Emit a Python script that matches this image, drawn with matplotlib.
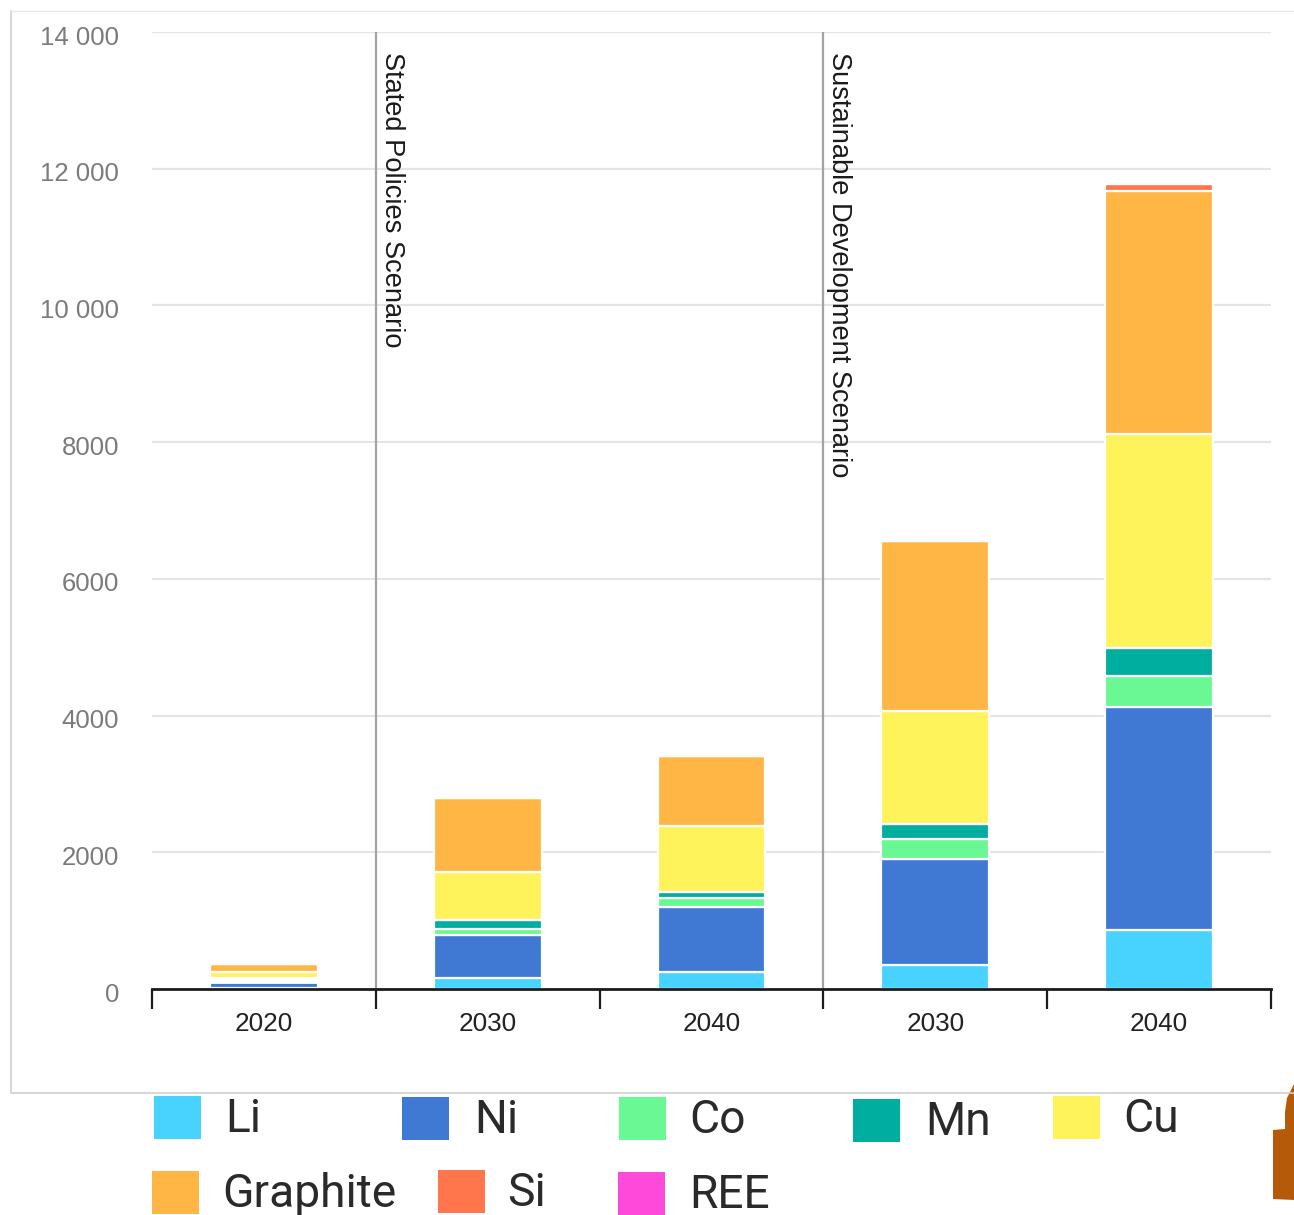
import matplotlib
matplotlib.use("Agg")
import matplotlib.pyplot as plt
from matplotlib.patches import Rectangle, Polygon
from matplotlib.transforms import ScaledTranslation

W, H = 1294, 1215
plt.rcParams['font.family'] = ['Liberation Sans', 'DejaVu Sans']

# Battery mineral demand, stacked per scenario and year
years = ['2020', '2030', '2040', '2030', '2040']
minerals = ['Li', 'Ni', 'Co', 'Mn', 'Cu', 'Graphite', 'Si', 'REE']
colors = ['#48d3ff', '#3f79d4', '#69f893', '#00ae9f', '#fff35c', '#ffb645', '#ff764d', '#ff49da']
li = [18, 165, 250, 352, 870]
ni = [80, 630, 950, 1550, 3255]
co = [30, 88, 130, 295, 455]
mn = [32, 132, 90, 220, 410]
cu = [90, 702, 965, 1653, 3130]
graphite = [116, 1078, 1021, 2490, 3560]
si = [0, 0, 0, 0, 90]
ree = [0, 0, 0, 0, 0]
series = [li, ni, co, mn, cu, graphite, si, ree]
y_ticks = [0, 2000, 4000, 6000, 8000, 10000, 12000, 14000]
y_tick_labels = ['0', '2000', '4000', '6000', '8000', '10 000', '12 000', '14 000']
scenarios = ['Stated Policies Scenario', 'Sustainable Development Scenario']
scenario_starts = [1, 3]


def px(x, y):
    """Pixel position, measured from the top left, to figure fractions."""
    return x / W, 1 - y / H


fig = plt.figure(figsize=(W / 100, H / 100), dpi=100, facecolor='white')

# Thin card border behind the plot
fig.add_artist(plt.Line2D([10.5 / W, 10.5 / W, 1], [1 - 10.5 / H, 1 - 1093 / H, 1 - 1093 / H],
                          color='#cfcfcf', lw=1.2))
fig.add_artist(plt.Line2D([10.5 / W, 1], [1 - 10.5 / H, 1 - 10.5 / H], color='#e9e9e9', lw=1))

left, bottom = px(152, 989)
right, top = px(1271, 32)
ax = fig.add_axes([left, bottom, right - left, top - bottom])
ax.set_xlim(-0.5, 4.5)
ax.set_ylim(0, 14000)
for s in ax.spines.values():
    s.set_visible(False)
ax.patch.set_visible(False)

ax.set_yticks(y_ticks)
ax.set_yticklabels(y_tick_labels, color='#7b7b7b', fontsize=18.5)
ax.tick_params(axis='y', length=0, pad=23.5)
ax.grid(axis='y', color='#e4e4e4', lw=1.6, zorder=0)
ax.set_axisbelow(True)
# Nudge the value labels slightly below their gridlines
label_shift = ScaledTranslation(0, -2.2 / 72, fig.dpi_scale_trans)
for lab in ax.get_yticklabels():
    lab.set_transform(lab.get_transform() + label_shift)

# Stacked bars, with white separators; very thin segments vanish under a wider separator
base = [0] * len(years)
for values, color, name in zip(series, colors, minerals):
    widths = [2.0 if 0 < v < 40 and name in ('Co', 'Mn') else 1.6 for v in values]
    ax.bar(range(len(years)), values, bottom=base, width=0.482, color=color,
           edgecolor='white', linewidth=widths, label=name, zorder=3)
    base = [b + v for b, v in zip(base, values)]

# Category axis: baseline with outward ticks at the category boundaries
ax.axhline(0, color='#1c1c1c', lw=2, zorder=5, clip_on=False)
ax.set_xticks([i - 0.5 for i in range(len(years) + 1)])
ax.set_xticklabels([''] * (len(years) + 1))
ax.tick_params(axis='x', length=14.5, width=1.6, color='#1c1c1c')
for i, year in enumerate(years):
    ax.annotate(year, (i, 0), xytext=(0, -35), textcoords='offset pixels', ha='center', va='center',
                fontsize=18.8, color='#222222', annotation_clip=False)

# Scenario dividers with rotated captions
for start, name in zip(scenario_starts, scenarios):
    ax.axvline(start - 0.5, color='#a3a3a3', lw=1.6, zorder=2)
    ax.annotate(name, (start - 0.5, 14000), xytext=(16, -20), textcoords='offset pixels',
                rotation=270, ha='center', va='top', fontsize=19.6, color='#1a1a1a', zorder=6,
                annotation_clip=False)

# Hand-placed legend swatches and labels
legend_slots = [(154, 1096, 225), (402, 1097, 474), (619, 1097, 689), (853, 1099, 925), (1053, 1096, 1123),
                (152, 1171, 222), (438, 1170, 507), (618, 1172, 689)]
for name, color, (sx, sy, tx) in zip(minerals, colors, legend_slots):
    x0, y0 = px(sx, sy + 43)
    fig.add_artist(Rectangle((x0, y0), 47 / W, 43 / H, transform=fig.transFigure, color=color, lw=0))
    tx0, ty0 = px(tx, sy + 23)
    fig.text(tx0, ty0, name, fontsize=33.2, color='#2a2a2a', ha='left', va='center', family='Roboto')

# Brown shape cut off at the lower right corner of the page
outline = [(1273, 1130), (1285, 1129), (1285, 1112), (1287, 1098), (1294, 1084), (1294, 1200), (1273, 1199)]
fig.add_artist(Polygon([px(x, y) for x, y in outline], closed=True, transform=fig.transFigure,
                       facecolor='#b55a08', edgecolor='none'))

fig.savefig('out.png', dpi=100)
